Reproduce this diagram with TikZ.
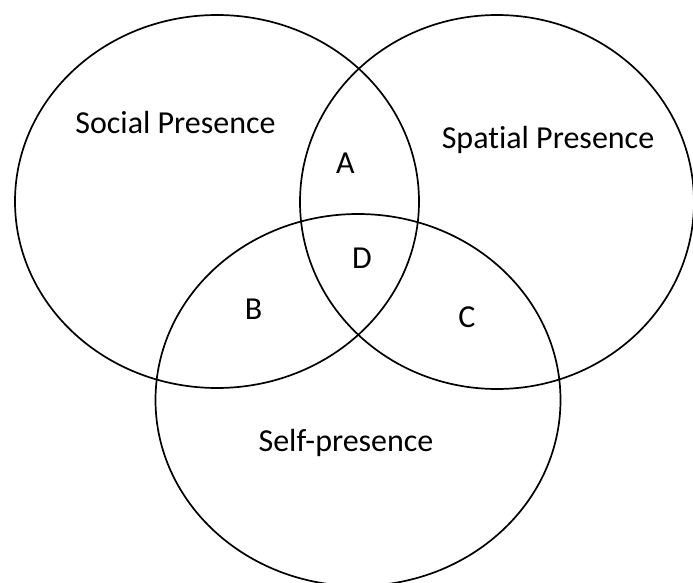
\documentclass[tikz,border=0pt]{standalone}
\usepackage{fontspec}
\setmainfont[Ligatures={NoCommon}]{Carlito}
\usetikzlibrary{shapes.geometric}
\begin{document}
\begin{tikzpicture}[x=1pt,y=-1pt,
  venn/.style={draw=black, line width=1.7pt, ellipse, inner sep=0pt},
  lbl/.style={anchor=base, inner sep=0pt, font=\fontsize{32}{38}\selectfont}]
\useasboundingbox (0,0) rectangle (693,583);
\node[venn, minimum width=404pt, minimum height=373pt] (social) at (217,201.5) {};
\node[venn, minimum width=394pt, minimum height=374pt] (spatial) at (497,202) {};
\node[venn, minimum width=405pt, minimum height=372pt] (self) at (358,400) {};
\node[lbl] (tsocial) at (175.5,134) {Social Presence};
\node[lbl] (tspatial) at (548,149) {Spatial Presence};
\node[lbl] (tself) at (346,451) {Self-presence};
\node[lbl] (ta) at (345.5,173) {A};
\node[lbl] (td) at (362,268) {D};
\node[lbl] (tb) at (253.5,319) {B};
\node[lbl] (tc) at (467,327) {C};
\end{tikzpicture}
\end{document}
